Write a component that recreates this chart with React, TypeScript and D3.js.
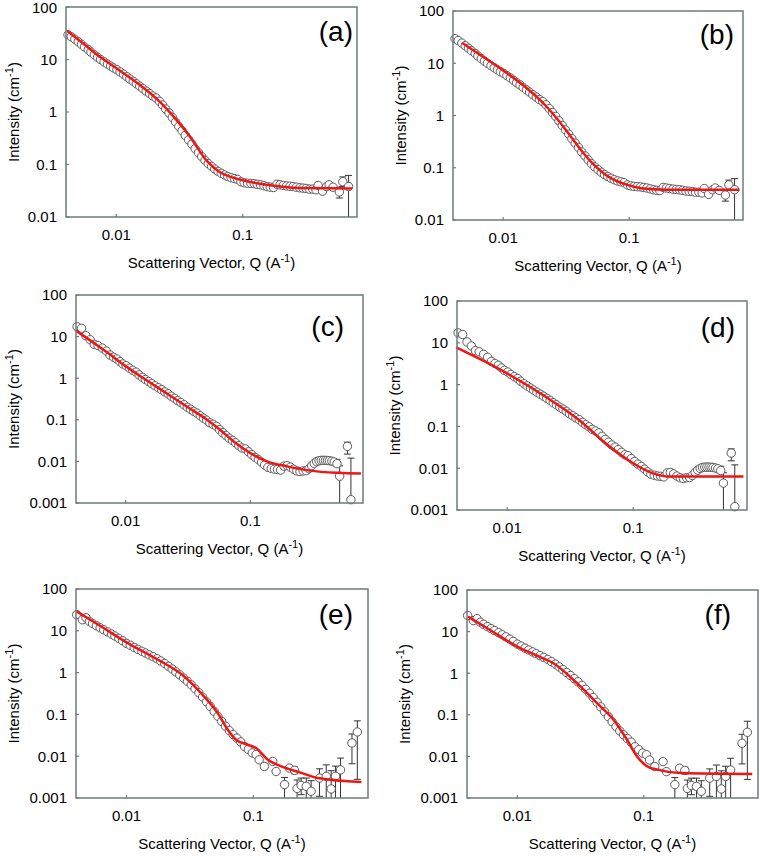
import React from "react";
import * as d3 from "d3";

// ---------- Data (Q in 1/A, intensity in 1/cm) ----------
// Sample 1 (panels a, b)
const qAB = [0.00415, 0.0044, 0.0047, 0.005, 0.0053, 0.0056, 0.006, 0.0063, 0.0067, 0.0071, 0.0075, 0.008, 0.0085, 0.009, 0.0095, 0.0101, 0.0107, 0.0114, 0.0121, 0.0128, 0.0136, 0.0144, 0.0153, 0.0162, 0.0172, 0.0183, 0.0194, 0.0206, 0.0219, 0.0232, 0.0246, 0.0261, 0.0277, 0.0294, 0.0312, 0.0331, 0.0351, 0.0373, 0.0396, 0.042, 0.0446, 0.0473, 0.0502, 0.0533, 0.0566, 0.06, 0.0637, 0.0676, 0.0717, 0.0761, 0.0808, 0.0858, 0.091, 0.0966, 0.1025, 0.109, 0.116, 0.123, 0.13, 0.138, 0.147, 0.156, 0.165, 0.175, 0.186, 0.197, 0.209, 0.222, 0.236, 0.25, 0.265, 0.282, 0.299, 0.317, 0.336, 0.357, 0.379, 0.394, 0.427, 0.46, 0.482, 0.517, 0.58, 0.618, 0.686];
const iAB = [29.6, 27.2, 24.3, 21.7, 19.4, 17.4, 15.4, 13.8, 12.3, 11.0, 10.0, 9.0, 8.2, 7.5, 6.9, 6.4, 5.8, 5.25, 4.7, 4.25, 3.85, 3.45, 3.1, 2.8, 2.5, 2.25, 2.02, 1.85, 1.6, 1.36, 1.14, 0.96, 0.79, 0.645, 0.53, 0.44, 0.36, 0.295, 0.245, 0.2, 0.168, 0.142, 0.12, 0.104, 0.092, 0.082, 0.074, 0.068, 0.063, 0.059, 0.056, 0.054, 0.052, 0.047, 0.045, 0.044, 0.0435, 0.043, 0.042, 0.041, 0.0395, 0.038, 0.037, 0.0365, 0.042, 0.041, 0.04, 0.039, 0.0385, 0.038, 0.037, 0.036, 0.0355, 0.035, 0.034, 0.034, 0.033, 0.04, 0.031, 0.038, 0.041, 0.037, 0.03, 0.047, 0.038];
const errQAB = [0.58, 0.618, 0.686];
const errLoAB = [0.023, 0.038, 0.002];
const errHiAB = [0.037, 0.058, 0.062];

// Sample 2 (panels c, d)
const qCD = [0.00408, 0.00443, 0.0048, 0.0052, 0.0056, 0.006, 0.0065, 0.007, 0.0075, 0.008, 0.0085, 0.009, 0.0095, 0.0101, 0.0107, 0.0114, 0.0121, 0.0128, 0.0136, 0.0144, 0.0153, 0.0162, 0.0172, 0.0183, 0.0194, 0.0206, 0.0219, 0.0232, 0.0246, 0.0261, 0.0277, 0.0294, 0.0312, 0.0331, 0.0351, 0.0373, 0.0396, 0.042, 0.0446, 0.0473, 0.0502, 0.0533, 0.0566, 0.06, 0.0637, 0.0676, 0.0717, 0.0761, 0.0808, 0.0858, 0.091, 0.0966, 0.1025, 0.109, 0.116, 0.123, 0.13, 0.138, 0.147, 0.156, 0.165, 0.175, 0.186, 0.197, 0.209, 0.222, 0.236, 0.25, 0.265, 0.28, 0.295, 0.31, 0.325, 0.34, 0.355, 0.37, 0.385, 0.4, 0.415, 0.43, 0.45, 0.47, 0.495, 0.52, 0.6, 0.64];
const iCD = [17.3, 15.8, 10.5, 8.4, 6.5, 6.1, 5.3, 4.5, 3.6, 3.2, 2.9, 2.5, 2.2, 2.0, 1.75, 1.55, 1.4, 1.2, 1.05, 0.93, 0.83, 0.74, 0.66, 0.59, 0.53, 0.47, 0.42, 0.37, 0.33, 0.29, 0.26, 0.23, 0.2, 0.18, 0.16, 0.145, 0.125, 0.11, 0.098, 0.085, 0.078, 0.07, 0.058, 0.049, 0.042, 0.036, 0.032, 0.028, 0.024, 0.021, 0.02, 0.017, 0.0145, 0.0125, 0.011, 0.0095, 0.0082, 0.0072, 0.0068, 0.0065, 0.0064, 0.0062, 0.0077, 0.0079, 0.0073, 0.0065, 0.0059, 0.0057, 0.0059, 0.006, 0.0067, 0.0079, 0.009, 0.0099, 0.0104, 0.0106, 0.0106, 0.0106, 0.0105, 0.0104, 0.0101, 0.0097, 0.0088, 0.0044, 0.023, 0.0012];
const errQCD = [0.495, 0.52, 0.6, 0.64];
const errLoCD = [0.0078, 0.0002, 0.015, 0.0002];
const errHiCD = [0.0112, 0.0078, 0.029, 0.012];

// Sample 3 (panels e, f)
const qEF = [0.00405, 0.00449, 0.0048, 0.0051, 0.0054, 0.0058, 0.0062, 0.0066, 0.0071, 0.0076, 0.0081, 0.0087, 0.0093, 0.01, 0.0107, 0.0115, 0.0123, 0.0132, 0.0141, 0.0151, 0.0162, 0.0174, 0.0186, 0.02, 0.0214, 0.0229, 0.0245, 0.0263, 0.0282, 0.0302, 0.0324, 0.0347, 0.0372, 0.0398, 0.0427, 0.0457, 0.049, 0.0525, 0.0562, 0.0603, 0.0646, 0.0692, 0.0741, 0.0794, 0.0851, 0.0912, 0.098, 0.105, 0.111, 0.122, 0.142, 0.151, 0.176, 0.192, 0.211, 0.221, 0.238, 0.261, 0.285, 0.332, 0.375, 0.41, 0.444, 0.486, 0.598, 0.659];
const iEF = [24.3, 18.4, 20.5, 16.8, 15, 13.2, 11.8, 10.6, 9.4, 8.4, 7.5, 6.6, 5.8, 5.0, 4.5, 4.0, 3.6, 3.25, 2.95, 2.65, 2.4, 2.15, 1.9, 1.65, 1.42, 1.22, 1.04, 0.88, 0.74, 0.62, 0.51, 0.41, 0.33, 0.26, 0.2, 0.155, 0.118, 0.09, 0.068, 0.052, 0.041, 0.033, 0.027, 0.022, 0.017, 0.0145, 0.012, 0.011, 0.0082, 0.0057, 0.0075, 0.0043, 0.0021, 0.0052, 0.0046, 0.0017, 0.002, 0.0019, 0.00145, 0.003, 0.0033, 0.00165, 0.0033, 0.0047, 0.0207, 0.038];
const errQEF = [0.122, 0.142, 0.176, 0.211, 0.221, 0.238, 0.261, 0.285, 0.332, 0.375, 0.41, 0.444, 0.486, 0.598, 0.659];
const errLoEF = [0.005, 0.0068, 0.0003, 0.0038, 0.0003, 0.0012, 0.0003, 0.0008, 0.0011, 0.0003, 0.0003, 0.0003, 0.0003, 0.0066, 0.0028];
const errHiEF = [0.0064, 0.0082, 0.0031, 0.0055, 0.0027, 0.003, 0.003, 0.0026, 0.005, 0.0062, 0.0045, 0.0058, 0.009, 0.034, 0.07];

// Model fits
const fitAq = [0.0041, 0.0055, 0.0075, 0.01, 0.015, 0.0219, 0.03, 0.038, 0.0515, 0.0656, 0.08, 0.1, 0.154, 0.283, 0.73];
const fitAi = [34.8, 20.0, 11.0, 6.8, 3.4, 1.6, 0.7, 0.345, 0.12, 0.072, 0.058, 0.05, 0.041, 0.0356, 0.035];
const fitBq = [0.00474, 0.007, 0.01, 0.015, 0.0216, 0.028, 0.0351, 0.042, 0.0506, 0.06, 0.0728, 0.1, 0.13, 0.2, 0.75];
const fitBi = [24.4, 13, 7.3, 3.5, 1.57, 0.76, 0.37, 0.21, 0.125, 0.085, 0.062, 0.046, 0.04, 0.038, 0.038];
const fitCq = [0.004, 0.0047, 0.007, 0.01, 0.0139, 0.02, 0.03, 0.0449, 0.0574, 0.0735, 0.1, 0.136, 0.197, 0.3, 0.5, 0.77];
const fitCi = [13.9, 10, 4.3, 1.95, 1.0, 0.49, 0.22, 0.1, 0.057, 0.03, 0.0158, 0.01, 0.0076, 0.006, 0.0053, 0.0051];
const fitDq = [0.00393, 0.01, 0.0202, 0.0372, 0.0607, 0.1, 0.142, 0.193, 0.3, 0.75];
const fitDi = [7.8, 1.86, 0.51, 0.142, 0.039, 0.0131, 0.0076, 0.0063, 0.0063, 0.0063];
const fitEq = [0.00405, 0.006, 0.01, 0.014, 0.0187, 0.0285, 0.0386, 0.0523, 0.0628, 0.073, 0.0903, 0.105, 0.13, 0.166, 0.238, 0.323, 0.71];
const fitEi = [29.2, 14, 5.3, 3.0, 1.86, 0.81, 0.325, 0.108, 0.043, 0.0248, 0.0188, 0.0157, 0.0082, 0.0057, 0.004, 0.003, 0.0024];
const fitFq = [0.00408, 0.006, 0.01, 0.014, 0.0193, 0.0315, 0.0427, 0.0578, 0.0738, 0.0885, 0.106, 0.128, 0.195, 0.72];
const fitFi = [22.9, 11.2, 4.35, 2.7, 1.74, 0.48, 0.19, 0.075, 0.025, 0.01, 0.0058, 0.0048, 0.004, 0.0038];

const xTicks = [0.01, 0.1];
const xTickLabels = ["0.01", "0.1"];
const yTicksAll = [0.001, 0.01, 0.1, 1, 10, 100];
const yTickLabelsAll = ["0.001", "0.01", "0.1", "1", "10", "100"];
const panelLabels = ["(a)", "(b)", "(c)", "(d)", "(e)", "(f)"];

const xDomain = [0.004, 0.8];

type Panel = {
  label: string;
  l: number; r: number; t: number; b: number;
  yMin: number;
  q: number[]; I: number[];
  eq: number[]; elo: number[]; ehi: number[];
  fq: number[]; fi: number[];
  lx: number; ly: number;
};

const panels: Panel[] = [
  { label: panelLabels[0], l: 66, r: 357, t: 7, b: 217, yMin: 0.01, q: qAB, I: iAB, eq: errQAB, elo: errLoAB, ehi: errHiAB, fq: fitAq, fi: fitAi, lx: 353, ly: 41 },
  { label: panelLabels[1], l: 453, r: 743, t: 11, b: 220, yMin: 0.01, q: qAB, I: iAB, eq: errQAB, elo: errLoAB, ehi: errHiAB, fq: fitBq, fi: fitBi, lx: 734, ly: 44 },
  { label: panelLabels[2], l: 76, r: 363, t: 295, b: 503, yMin: 0.001, q: qCD, I: iCD, eq: errQCD, elo: errLoCD, ehi: errHiCD, fq: fitCq, fi: fitCi, lx: 344, ly: 336 },
  { label: panelLabels[3], l: 457, r: 747, t: 301, b: 510, yMin: 0.001, q: qCD, I: iCD, eq: errQCD, elo: errLoCD, ehi: errHiCD, fq: fitDq, fi: fitDi, lx: 735, ly: 337 },
  { label: panelLabels[4], l: 76, r: 368, t: 589, b: 798, yMin: 0.001, q: qEF, I: iEF, eq: errQEF, elo: errLoEF, ehi: errHiEF, fq: fitEq, fi: fitEi, lx: 353, ly: 624 },
  { label: panelLabels[5], l: 467, r: 758, t: 590, b: 798, yMin: 0.001, q: qEF, I: iEF, eq: errQEF, elo: errLoEF, ehi: errHiEF, fq: fitFq, fi: fitFi, lx: 731, ly: 624 },
];

const FONT = "'Liberation Sans', Arial, Helvetica, sans-serif";
const AXIS = "#6e7b7b";

function PanelView({ p }: { p: Panel }) {
  const x = d3.scaleLog().domain(xDomain).range([p.l, p.r]);
  const y = d3.scaleLog().domain([p.yMin, 100]).range([p.b, p.t]);
  const yTicks = yTicksAll.filter((v) => v >= p.yMin);
  const fitPts = p.fq.map((q, i) => [q, p.fi[i]] as [number, number]);
  const line = d3
    .line<[number, number]>()
    .x((d) => x(d[0]))
    .y((d) => y(d[1]))
    .curve(d3.curveMonotoneX);
  const clamp = (v: number) => Math.max(p.yMin, Math.min(100, v));
  const cap = 3.5;
  const yLabX = p.l - (p.yMin === 0.01 ? 47 : 57);
  const midY = (p.t + p.b) / 2;
  return (
    <g>
      {/* error bars */}
      <g stroke="#333" strokeWidth={1}>
        {p.eq.map((q, i) => {
          const xx = x(q);
          const lo = p.elo[i];
          const hi = p.ehi[i];
          return (
            <g key={i}>
              <line x1={xx} x2={xx} y1={y(clamp(lo))} y2={y(clamp(hi))} />
              {hi <= 100 && <line x1={xx - cap} x2={xx + cap} y1={y(hi)} y2={y(hi)} />}
              {lo >= p.yMin && <line x1={xx - cap} x2={xx + cap} y1={y(lo)} y2={y(lo)} />}
            </g>
          );
        })}
      </g>
      {/* data circles */}
      <g fill="#fff" stroke="#5a5a5a" strokeWidth={1}>
        {p.q.map((q, i) => (
          <circle key={i} cx={x(q)} cy={y(p.I[i])} r={4.2} />
        ))}
      </g>
      {/* fit line */}
      <path d={line(fitPts) || ""} fill="none" stroke="#f01414" strokeWidth={2.5} />
      {/* frame */}
      <rect x={p.l} y={p.t} width={p.r - p.l} height={p.b - p.t} fill="none" stroke={AXIS} strokeWidth={1.5} />
      {/* ticks */}
      <g stroke={AXIS} strokeWidth={1.2}>
        {xTicks.map((v, i) => (
          <line key={i} x1={x(v)} x2={x(v)} y1={p.b} y2={p.b - 3} />
        ))}
        {yTicks.map((v, i) => (
          <line key={i} x1={p.l} x2={p.l + 3} y1={y(v)} y2={y(v)} />
        ))}
      </g>
      <g fontFamily={FONT} fontSize={15} fill="#000">
        {xTicks.map((v, i) => (
          <text key={i} x={x(v)} y={p.b + 23} textAnchor="middle">
            {xTickLabels[i]}
          </text>
        ))}
        {yTicks.map((v) => (
          <text key={v} x={p.l - 9} y={Math.max(y(v), 12 - 0.36 * 15 + 0.5)} dy="0.36em" textAnchor="end">
            {yTickLabelsAll[yTicksAll.indexOf(v)]}
          </text>
        ))}
        <text x={(p.l + p.r) / 2} y={p.b + 51} textAnchor="middle">
          Scattering Vector, Q (A
          <tspan dy={-6} fontSize={11}>-1</tspan>
          <tspan dy={6}>)</tspan>
        </text>
        <text transform={`translate(${yLabX},${midY}) rotate(-90)`} textAnchor="middle">
          Intensity (cm
          <tspan dy={-6} fontSize={11}>-1</tspan>
          <tspan dy={6}>)</tspan>
        </text>
      </g>
      <text x={p.lx} y={p.ly} textAnchor="end" fontFamily={FONT} fontSize={28} fill="#000">
        {p.label}
      </text>
    </g>
  );
}

export default function App() {
  return (
    <svg
      width={760}
      height={857}
      style={{ position: "absolute", left: 0, top: 0, background: "#fff" }}
    >
      <rect width={760} height={857} fill="#fff" />
      {panels.map((p, i) => (
        <PanelView key={i} p={p} />
      ))}
    </svg>
  );
}
